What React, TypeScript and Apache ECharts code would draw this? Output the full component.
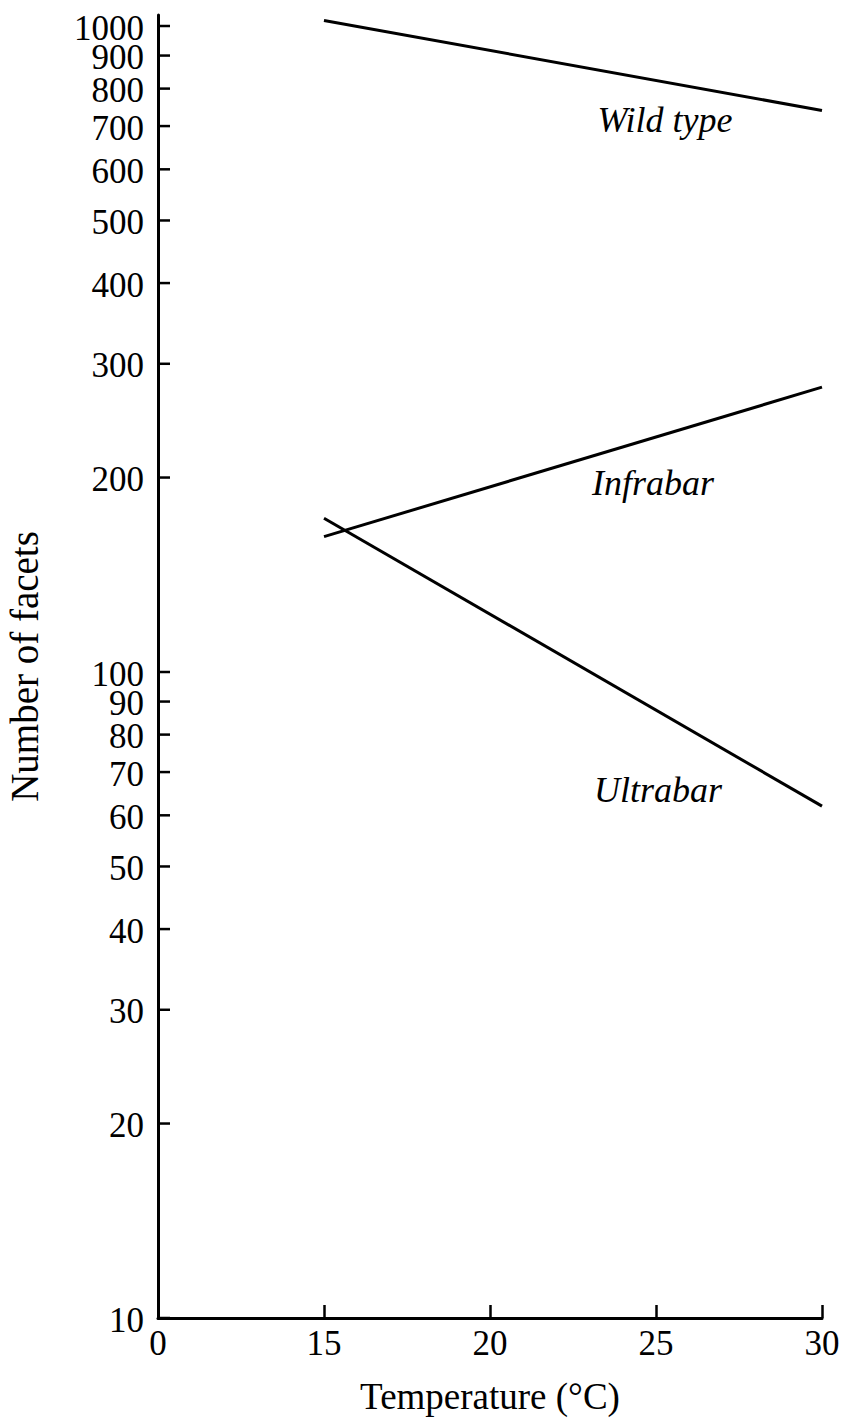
import React, { useEffect, useRef } from "react";
import * as echarts from "echarts";

const temperatures = [15, 30];
const wildType = [1020, 740];
const infrabar = [162, 276];
const ultrabar = [173, 62];
const yTickValues = [10, 20, 30, 40, 50, 60, 70, 80, 90, 100, 200, 300, 400, 500, 600, 700, 800, 900, 1000];
const seriesNames = ["Wild type", "Infrabar", "Ultrabar"];

const FONT = "'Liberation Serif', 'Times New Roman', serif";
const X_MIN = 10;
const Y_MIN = 10;

export default function App() {
  const ref = useRef<HTMLDivElement>(null);
  useEffect(() => {
    document.body.style.margin = "0";
    const chart = echarts.init(ref.current!, null, { renderer: "svg" });
    const mk = (vals: number[]) => temperatures.map((t, i) => [t, vals[i]]);
    const lineStyle = { color: "#000", width: 3 };
    const labelFont = `italic 36px ${FONT}`;
    chart.setOption({
      animation: false,
      backgroundColor: "#fff",
      grid: { left: 158, right: 21, top: 15, bottom: 101, containLabel: false, outerBoundsMode: "none" },
      xAxis: {
        type: "value",
        min: X_MIN,
        max: 30,
        interval: 5,
        axisLine: { show: true, lineStyle: { color: "#000", width: 3 } },
        axisTick: { show: true, inside: true, length: 13, lineStyle: { color: "#000", width: 2.5 } },
        splitLine: { show: false },
        axisLabel: {
          formatter: (v: number) => (v === X_MIN ? "0" : String(v)),
          color: "#000",
          fontSize: 35,
          fontFamily: FONT,
          margin: 10,
          lineHeight: 30,
        },
        name: "Temperature (°C)",
        nameLocation: "middle",
        nameGap: 60,
        nameTextStyle: { color: "#000", fontSize: 37, fontFamily: FONT },
      },
      yAxis: {
        type: "log",
        logBase: 10,
        min: Y_MIN,
        max: 1040,
        axisLine: { show: true, lineStyle: { color: "#000", width: 3 } },
        axisTick: { show: false },
        minorTick: { show: false },
        splitLine: { show: false },
        axisLabel: { show: false },
        name: "Number of facets",
        nameLocation: "middle",
        nameGap: 114,
        nameTextStyle: { color: "#000", fontSize: 39, fontFamily: FONT },
      },
      series: [
        { name: seriesNames[0], type: "line", data: mk(wildType), symbol: "none", lineStyle },
        { name: seriesNames[1], type: "line", data: mk(infrabar), symbol: "none", lineStyle },
        { name: seriesNames[2], type: "line", data: mk(ultrabar), symbol: "none", lineStyle },
        {
          type: "custom",
          name: "yTicks",
          silent: true,
          clip: false,
          z: 5,
          data: yTickValues.map((v) => [X_MIN, v]),
          renderItem: (_params: any, api: any) => {
            const v = api.value(1);
            const p = api.coord([api.value(0), v]);
            return {
              type: "group",
              children: [
                { type: "rect", shape: { x: p[0], y: p[1] - 1.25, width: 12, height: 2.5 }, style: { fill: "#000" } },
                {
                  type: "text",
                  x: p[0] - 14,
                  y: p[1] + 2,
                  style: { text: String(Math.round(v)), font: `35px ${FONT}`, fill: "#000", textAlign: "right", textVerticalAlign: "middle" },
                },
              ],
            };
          },
        },
      ],
      graphic: [
        { type: "text", x: 665, y: 120, style: { text: seriesNames[0], font: labelFont, fill: "#000", textAlign: "center", textVerticalAlign: "middle" } },
        { type: "text", x: 653, y: 483, style: { text: seriesNames[1], font: labelFont, fill: "#000", textAlign: "center", textVerticalAlign: "middle" } },
        { type: "text", x: 658, y: 790, style: { text: seriesNames[2], font: labelFont, fill: "#000", textAlign: "center", textVerticalAlign: "middle" } },
      ],
    });
    return () => chart.dispose();
  }, []);
  return <div ref={ref} style={{ width: 843, height: 1419 }} />;
}
